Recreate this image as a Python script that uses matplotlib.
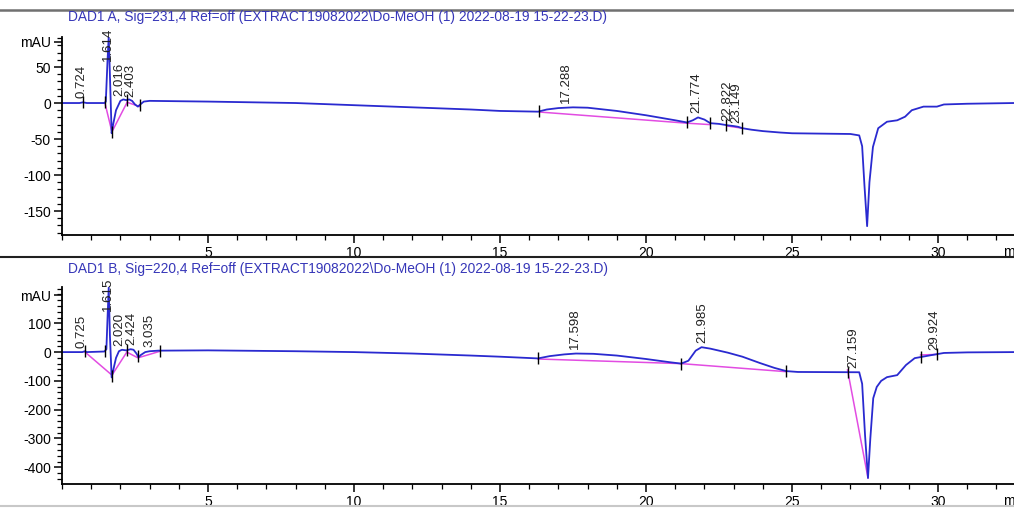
import numpy as np
import matplotlib
matplotlib.use('Agg')
import matplotlib.pyplot as plt
from matplotlib.lines import Line2D
from matplotlib.ticker import FixedLocator, MultipleLocator

plt.rcParams['font.family'] = ['Liberation Sans', 'DejaVu Sans']

# ---- DAD1 A (231 nm): time [min], signal [mAU]
timeA = [0, 0.6, 0.72, 0.85, 1.45, 1.5, 1.56, 1.6, 1.64, 1.7, 1.75, 1.85, 2.0, 2.1,
         2.2, 2.3, 2.4, 2.5, 2.6, 2.68, 2.8, 3.0, 5, 8, 10, 12, 14, 15, 16.3, 16.6,
         17.0, 17.5, 18.0, 19, 20, 21, 21.4, 21.6, 21.78, 22.0, 22.2, 22.5, 22.8, 23.0,
         23.15, 23.3, 23.6, 24, 24.6, 25, 27.0, 27.3, 27.4, 27.48, 27.57, 27.65, 27.77,
         27.95, 28.25, 28.6, 28.87, 29.1, 29.5, 29.96, 30.2, 31, 32.6]
sigA = [0, 0, 1, 0, 0, 2, 60, 92, 40, -42, -30, -10, 3, 5,
        4, 5, 3, -2, -5, -2, 2, 3, 2, 0, -3, -6, -9, -11, -12, -9,
        -7, -6, -6.5, -11, -17, -24, -27, -24, -20, -23, -28, -29, -31, -32,
        -33, -35, -37, -39, -41, -42, -43, -45, -60, -115, -171, -110, -61,
        -35, -26, -24, -19, -10, -5, -5, -2, -1, 0]
peaksA = ['0.724', '1.614', '2.016', '2.403', '17.288', '21.774', '22.822', '23.149']
eventsA = [0.72, 1.47, 1.71, 2.23, 2.67, 16.35, 21.4, 22.2, 22.75, 23.3]
baseA = [([1.47, 1.71, 2.23], [0, -40, 1]),
         ([2.23, 2.67], [1, -5]),
         ([16.35, 21.4], [-12.5, -28]),
         ([21.4, 22.2], [-28, -30]),
         ([22.8, 23.3], [-32, -35])]

# ---- DAD1 B (220 nm)
timeB = [0, 0.7, 0.78, 0.85, 1.45, 1.52, 1.56, 1.6, 1.64, 1.7, 1.76, 1.85, 1.95, 2.05,
         2.2, 2.35, 2.45, 2.55, 2.62, 2.7, 2.85, 3.0, 3.3, 5, 8, 10, 12, 14, 15, 16.3,
         16.7, 17.2, 17.6, 18.2, 19, 20, 20.8, 21.2, 21.45, 21.7, 21.9, 22.2, 22.8, 23.3,
         23.9, 24.4, 24.8, 25.2, 27.3, 27.4, 27.5, 27.6, 27.68, 27.78, 27.9, 28.05,
         28.25, 28.6, 28.9, 29.2, 29.8, 30.2, 31, 32.6]
sigB = [0, 0, 3, 0, 2, 10, 120, 224, 60, -88, -60, -20, 3, 8,
        6, 10, 8, -5, -18, -10, 0, 3, 5, 6, 3, 0, -5, -12, -16, -22,
        -14, -8, -5, -6, -12, -24, -35, -40, -30, 5, 17, 12, -2, -16,
        -38, -55, -66, -69, -70, -110, -290, -437, -300, -160, -121, -100,
        -87, -80, -45, -21, -10, -3, -1, 0]
peaksB = ['0.725', '1.615', '2.020', '2.424', '3.035', '17.598', '21.985', '27.159', '29.924']
eventsB = [0.79, 1.47, 1.71, 2.22, 2.6, 3.36, 16.3, 21.2, 24.8, 26.9, 29.4, 29.96]
baseB = [([0.79, 1.71, 2.22], [0, -80, 0]),
         ([2.22, 2.6, 3.36], [0, -20, 3]),
         ([16.3, 21.2], [-24, -40]),
         ([21.2, 24.8], [-40, -68]),
         ([26.9, 27.6], [-62, -437]),
         ([29.4, 29.96], [-10, -8])]

titleA = 'DAD1 A, Sig=231,4 Ref=off (EXTRACT19082022\\Do-MeOH (1) 2022-08-19 15-22-23.D)'
titleB = 'DAD1 B, Sig=220,4 Ref=off (EXTRACT19082022\\Do-MeOH (1) 2022-08-19 15-22-23.D)'

BLUE = '#2a2ad0'
MAGENTA = '#e24ce2'
W, H = 1014, 508

fig = plt.figure(figsize=(W / 100, H / 100), dpi=100)
fig.patch.set_facecolor('white')


def panel(top, bottom, ylim, yticks, ymajor_lab, mau_at, yminor, t, s, peaks, events, bases, title, title_y):
    ax = fig.add_axes([62 / W, 1 - bottom / H, 1 - 62 / W, (bottom - top) / H])
    for bt, bv in bases:
        ax.plot(bt, bv, color=MAGENTA, lw=1.1)
    ax.plot(t, s, color=BLUE, lw=1.3)
    ev = np.array(events)
    ax.plot(ev, np.interp(ev, t, s), ls='none', marker='|', ms=8, mew=1.0, color='black')
    ax.set_xlim(0, 32.6)
    ax.set_ylim(*ylim)
    # peak labels, kept inside the frame
    cap = ylim[1] - 28.0 / (bottom - top) * (ylim[1] - ylim[0])
    for p in peaks:
        rt = float(p)
        yv = min(np.interp(rt, t, s), cap)
        ax.annotate(p, xy=(rt, yv), xytext=(-1, 3), textcoords='offset points',
                    rotation=90, ha='center', va='bottom', fontsize=9.5, color='#222222')
    for sp in ['top', 'right']:
        ax.spines[sp].set_visible(False)
    for sp in ['left', 'bottom']:
        ax.spines[sp].set_linewidth(1.3)
    ax.yaxis.set_major_locator(FixedLocator(yticks + [mau_at]))
    ax.set_yticklabels(ymajor_lab + ['mAU'])
    ax.yaxis.set_minor_locator(MultipleLocator(yminor))
    ax.xaxis.set_major_locator(FixedLocator([5, 10, 15, 20, 25, 30]))
    ax.xaxis.set_minor_locator(MultipleLocator(1))
    ax.tick_params(which='major', length=6, width=1.1, labelsize=10, pad=2)
    ax.tick_params(which='minor', length=3.5, width=0.9)
    fig.text(68 / W, 1 - title_y / H, title, color='#3636b8', fontsize=9.9, va='center', ha='left')
    fig.text(1003 / W, 1 - (bottom + 17) / H, 'min', fontsize=10, va='center', ha='left')
    return ax


panel(37, 235, (-183.3, 91.7), [50, 0, -50, -100, -150], ['50', '0', '-50', '-100', '-150'], 85, 10,
      timeA, sigA, peaksA, eventsA, baseA, titleA, 17)
panel(287, 484, (-458, 226), [100, 0, -100, -200, -300, -400],
      ['100', '0', '-100', '-200', '-300', '-400'], 198, 20,
      timeB, sigB, peaksB, eventsB, baseB, titleB, 269)

# window separators
fig.add_artist(Line2D([0, 1], [1 - 9.5 / H, 1 - 9.5 / H], color='#707070', lw=1.8))
fig.add_artist(Line2D([0, 1], [1 - 257 / H, 1 - 257 / H], color='#202020', lw=1.5))
fig.add_artist(Line2D([0, 1], [1 - 506 / H, 1 - 506 / H], color='#c8c8c8', lw=1.5))

fig.savefig('out.png', dpi=100, facecolor='white')
